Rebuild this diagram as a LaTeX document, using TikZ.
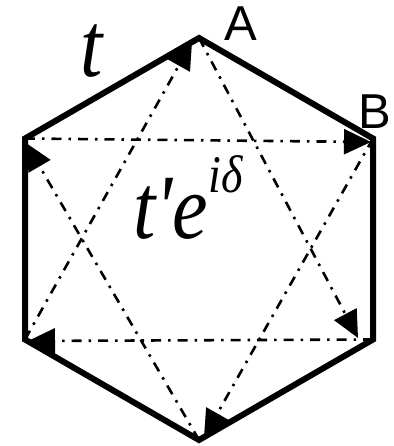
\documentclass[tikz,border=0pt]{standalone}
\usepackage{fontspec}
\setmainfont{Liberation Serif}
\newfontfamily\vertexfont{Liberation Sans}
\usetikzlibrary{arrows.meta}

\tikzset{
  hexline/.style={line width=6pt},
  hopline/.style={line width=2.6pt,dash pattern=on 10pt off 7pt on 2.5pt off 7pt,
    -{Triangle[length=27pt,width=25pt]}},
  vertexlbl/.style={font=\vertexfont\fontsize{49}{49}\selectfont},
  hoplbl/.style={font=\fontsize{80}{80}\selectfont\itshape},
}

\begin{document}
\begin{tikzpicture}[x=1pt,y=1pt]
        \useasboundingbox (0,0) rectangle (393,446);
        % corners of the hexagon
        \coordinate (A) at (199,408);
        \coordinate (B) at (373,307.5);
        \coordinate (C) at (373,106.5);
        \coordinate (D) at (199,6);
        \coordinate (E) at (25,106.5);
        \coordinate (F) at (25,307.5);
        % where the arrows land, a bit inside the corners
        \coordinate (tA) at (192,404);
        \coordinate (tB) at (371,304);
        \coordinate (tC) at (358,108);
        \coordinate (tD) at (204,9);
        \coordinate (tE) at (28,105);
        \coordinate (tF) at (26,303);
        % second neighbour hoppings
        \foreach \s/\e in {A/tC,C/tE,E/tA,F/tB,B/tD,D/tF}{
          \draw[hopline] (\s) -- (\e);
        }
        \draw[hexline] (A) -- (B) -- (C) -- (D) -- (E) -- (F) -- cycle;
        \node[vertexlbl] (lblA) at (241,422) {A};
        \node[vertexlbl] (lblB) at (375,334) {B};
        \node[hoplbl] (lblt) at (92,395) {\scalebox{1}[1.15]{t}};
        \node[hoplbl] (lblphase) at (188,249)
          {\scalebox{1}[1.15]{t\textquotesingle e\raisebox{40pt}{\fontsize{46}{46}\selectfont iδ}}};
      \end{tikzpicture}
\end{document}
